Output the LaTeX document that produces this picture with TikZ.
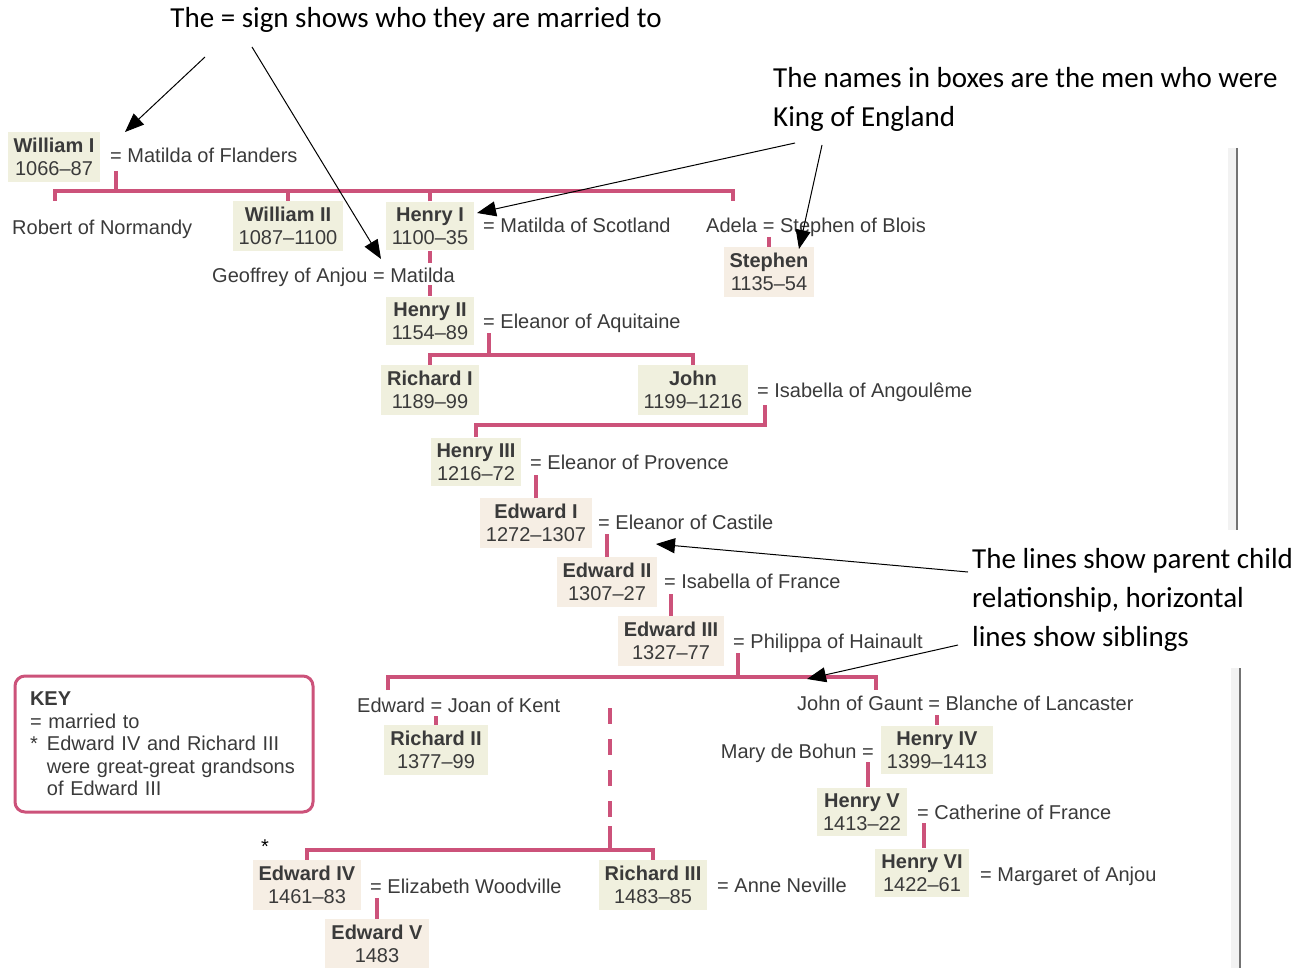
\documentclass[tikz,border=0pt]{standalone}
\usepackage{fontspec}
\setmainfont{Liberation Sans}
\newfontfamily\notefont{Carlito}
\usetikzlibrary{arrows.meta}

\definecolor{kinpink}{RGB}{204,82,122}
\definecolor{boxgreen}{RGB}{240,240,222}
\definecolor{boxpink}{RGB}{246,238,228}
\definecolor{txtgrey}{RGB}{58,58,58}

\begin{document}
\begin{tikzpicture}[x=1pt,y=-1pt]
    \tikzstyle{king}=[fill=boxgreen,align=center,inner xsep=6pt,inner ysep=6pt,text=txtgrey,font=\fontsize{20}{23}\selectfont]
    \tikzstyle{kingp}=[king,fill=boxpink]
    \tikzstyle{wed}=[anchor=west,inner sep=0pt,text height=15pt,text depth=3pt,text=txtgrey,font=\fontsize{20}{23}\selectfont]
    \tikzstyle{kin}=[draw=kinpink,line width=3.3pt]
    \tikzstyle{note}=[align=left,inner sep=0pt,font=\notefont\fontsize{29}{39}\selectfont]
    \tikzstyle{pointer}=[-{Triangle[length=19pt,width=15pt]},line width=1pt]
    \useasboundingbox (0,0) rectangle (1316,968);
    % page gutter of the scan
    \draw [line width=8pt,black!5] (1232,148) -- (1232,530);
    \draw [line width=2.5pt,black!55] (1237,148) -- (1237,530);
    \draw [line width=8pt,black!5] (1235,668) -- (1235,968);
    \draw [line width=2.5pt,black!55] (1240,668) -- (1240,968);
    \node (wmI) at (54,157) [king] {\textbf{William I}\\1066--87};
    \node (wmIwed) at (110,157) [wed] {= Matilda of Flanders};
    \node (robert) at (12,229) [wed] {Robert of Normandy};
    \node (wmII) at (288,226) [king] {\textbf{William II}\\1087--1100};
    \node (henI) at (430,226) [king] {\textbf{Henry I}\\1100--35};
    \node (henIwed) at (483,227) [wed] {= Matilda of Scotland};
    \node (adela) at (706,227) [wed] {Adela = Stephen of Blois};
    \node (stephen) at (769,272) [kingp] {\textbf{Stephen}\\1135--54};
    \node (matilda) at (212,276) [wed] {Geoffrey of Anjou = Matilda};
    \node (henII) at (430,321) [king] {\textbf{Henry II}\\1154--89};
    \node (henIIwed) at (483,322) [wed] {= Eleanor of Aquitaine};
    \node (ricI) at (430,390) [king] {\textbf{Richard I}\\1189--99};
    \node (john) at (693,390) [king] {\textbf{John}\\1199--1216};
    \node (johnwed) at (757,391) [wed] {= Isabella of Angoulême};
    \node (henIII) at (476,462) [king] {\textbf{Henry III}\\1216--72};
    \node (henIIIwed) at (530,463) [wed] {= Eleanor of Provence};
    \node (edwI) at (536,523) [kingp] {\textbf{Edward I}\\1272--1307};
    \node (edwIwed) at (598,523) [wed] {= Eleanor of Castile};
    \node (edwII) at (607,582) [kingp] {\textbf{Edward II}\\1307--27};
    \node (edwIIwed) at (664,582) [wed] {= Isabella of France};
    \node (edwIII) at (671,641) [kingp] {\textbf{Edward III}\\1327--77};
    \node (edwIIIwed) at (733,642) [wed] {= Philippa of Hainault};
    \node (edward) at (357,706) [wed] {Edward = Joan of Kent};
    \node (gaunt) at (797,704) [wed] {John of Gaunt = Blanche of Lancaster};
    \node (ricII) at (436,750) [king] {\textbf{Richard II}\\1377--99};
    \node (bohun) at (874,752) [wed,anchor=east] {Mary de Bohun =};
    \node (henIV) at (937,750) [king] {\textbf{Henry IV}\\1399--1413};
    \node (henV) at (862,812) [king] {\textbf{Henry V}\\1413--22};
    \node (henVwed) at (917,813) [wed] {= Catherine of France};
    \node (henVI) at (922,873) [king] {\textbf{Henry VI}\\1422--61};
    \node (henVIwed) at (980,875) [wed] {= Margaret of Anjou};
    \node (star) at (265,847) [wed,anchor=center,text=black] {*};
    \node (edwIV) at (307,885) [kingp] {\textbf{Edward IV}\\1461--83};
    \node (edwIVwed) at (370,887) [wed] {= Elizabeth Woodville};
    \node (ricIII) at (653,885) [king] {\textbf{Richard III}\\1483--85};
    \node (ricIIIwed) at (717,886) [wed] {= Anne Neville};
    \node (edwV) at (377,944) [kingp] {\textbf{Edward V}\\1483};
    \node (key) at (164,744) [draw=kinpink,line width=3pt,rounded corners=10pt,minimum width=298pt,minimum height=136pt,text width=268pt,inner xsep=15pt,align=left,text=txtgrey,font=\fontsize{20}{22.5}\selectfont]
        {\textbf{KEY}\\= married to\\\makebox[17pt][l]{*}Edward IV and Richard III\\\hspace*{17pt}were great-great grandsons\\\hspace*{17pt}of Edward III};
    \coordinate (wmIeq) at (116,171);
    \coordinate (wmIbar) at (116,191);
    \coordinate (robdrop) at (55,201);
    \coordinate (adeladrop) at (733,201);
    \coordinate (adelaeq) at (769,237);
    \coordinate (henIIeq) at (489,333);
    \coordinate (henIIbar) at (489,355);
    \coordinate (johneq) at (765,405);
    \coordinate (johnbar) at (765,425);
    \coordinate (henIIIeq) at (536,475);
    \coordinate (edwIeq) at (607,534);
    \coordinate (edwIIeq) at (671,594);
    \coordinate (edwIIIeq) at (738,653);
    \coordinate (edwIIIbar) at (738,677);
    \coordinate (edwdrop) at (388,690);
    \coordinate (gauntdrop) at (876,690);
    \coordinate (yorktop) at (610,708);
    \coordinate (yorkend) at (610,826);
    \coordinate (yorkbar) at (610,850);
    \coordinate (edwardeq) at (436,716);
    \coordinate (gaunteq) at (937,715);
    \coordinate (bohuneq) at (868,762);
    \coordinate (henVeq) at (924,823);
    \coordinate (edwIVeq) at (377,898);
    \draw [kin] (wmIeq) -- (wmIbar);
    \draw [kin] (robdrop) |- (wmIbar) -| (adeladrop);
    \draw [kin] (wmII.north) -- (wmII.north |- wmIbar);
    \draw [kin] (henI.north) -- (henI.north |- wmIbar);
    \draw [kin] (adelaeq) -- (stephen.north);
    \draw [kin,shorten >=4pt] (henI.south) -- (henI.south |- matilda.north);
    \draw [kin] (henI.south |- matilda.south) -- (henII.north);
    \draw [kin] (henIIeq) -- (henIIbar);
    \draw [kin] (ricI.north) |- (henIIbar) -| (john.north);
    \draw [kin] (johneq) -- (johnbar) -| (henIII.north);
    \draw [kin] (henIIIeq) -- (edwI.north);
    \draw [kin] (edwIeq) -- (edwII.north);
    \draw [kin] (edwIIeq) -- (edwIII.north);
    \draw [kin] (edwIIIeq) -- (edwIIIbar);
    \draw [kin] (edwdrop) |- (edwIIIbar) -| (gauntdrop);
    \draw [kin,dash pattern=on 16pt off 15pt] (yorktop) -- (yorkend);
    \draw [kin] (yorkend) -- (yorkbar);
    \draw [kin] (edwIV.north) |- (yorkbar) -| (ricIII.north);
    \draw [kin] (edwardeq) -- (ricII.north);
    \draw [kin] (gaunteq) -- (henIV.north);
    \draw [kin] (bohuneq) -- (bohuneq |- henV.north);
    \draw [kin] (henVeq) -- (henVeq |- henVI.north);
    \draw [kin] (edwIVeq) -- (edwV.north);
    \node (signnote) at (416,20) [note] {The = sign shows who they are married to};
    \node (boxnote) at (773,99) [note,anchor=west] {The names in boxes are the men who were\\King of England};
    \node (linenote) at (972,600) [note,anchor=west] {The lines show parent child\\relationship, horizontal\\lines show siblings};
    \coordinate (signA) at (205,57);
    \coordinate (signB) at (252,47);
    \coordinate (boxA) at (795,143);
    \coordinate (boxB) at (822,145);
    \coordinate (lineA) at (968,572);
    \coordinate (lineB) at (958,645);
    \draw [pointer] (signA) -- (125,132);
    \draw [pointer] (signB) -- (381,259);
    \draw [pointer] (boxA) -- (477,213);
    \draw [pointer] (boxB) -- (799,249);
    \draw [pointer] (lineA) -- (656,544);
    \draw [pointer] (lineB) -- (807,679);
\end{tikzpicture}
\end{document}
